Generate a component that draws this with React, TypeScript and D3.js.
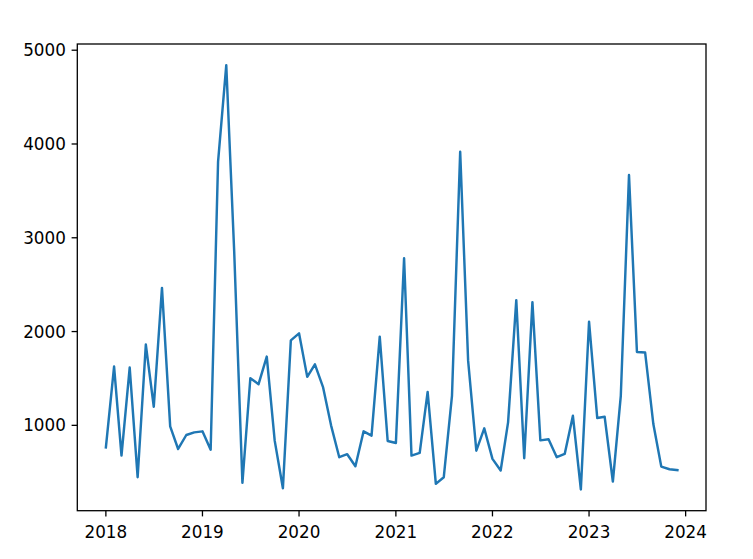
import React from "react";
import * as d3 from "d3";

const years = [2018, 2019, 2020, 2021, 2022, 2023];
const values2018 = [766, 1627, 677, 1616, 447, 1861, 1198, 2466, 989, 748, 897, 925];
const values2019 = [936, 741, 3812, 4840, 2850, 387, 1503, 1439, 1733, 837, 330, 1906];
const values2020 = [1981, 1517, 1651, 1404, 1000, 660, 692, 564, 936, 890, 1946, 833];
const values2021 = [812, 2781, 677, 706, 1357, 376, 447, 1315, 3918, 1690, 730, 968];
const values2022 = [642, 518, 1032, 2335, 649, 2314, 840, 851, 660, 695, 1102, 316];
const values2023 = [2105, 1078, 1091, 401, 1315, 3670, 1782, 1776, 1014, 560, 532, 522];
const yearValues = [values2018, values2019, values2020, values2021, values2022, values2023];

const xTickLabels = ["2018", "2019", "2020", "2021", "2022", "2023", "2024"];
const yTickLabels = ["1000", "2000", "3000", "4000", "5000"];

type Pt = { date: Date; value: number };
const data: Pt[] = [];
years.forEach((y, yi) => {
  yearValues[yi].forEach((v, m) => {
    data.push({ date: new Date(Date.UTC(y, m, 1)), value: v });
  });
});

const W = 753;
const H = 559;
const left = 77.3;
const right = 706;
const top = 44;
const bottom = 510.7;

export default function App() {
  const t0 = data[0].date.getTime();
  const t1 = data[data.length - 1].date.getTime();
  const xm = (t1 - t0) * 0.05;
  const x = d3.scaleUtc().domain([new Date(t0 - xm), new Date(t1 + xm)]).range([left, right]);

  const vmin = d3.min(data, (d) => d.value)!;
  const vmax = d3.max(data, (d) => d.value)!;
  const ym = (vmax - vmin) * 0.05;
  const y = d3.scaleLinear().domain([vmin - ym, vmax + ym]).range([bottom, top]);

  const line = d3
    .line<Pt>()
    .x((d) => x(d.date))
    .y((d) => y(d.value));

  const font = "'DejaVu Sans', sans-serif";
  const fs = 16.8;
  const tickLen = 5.7;

  return (
    <svg
      width={W}
      height={H}
      style={{ position: "absolute", left: 0, top: 0, background: "#fff" }}
    >
      <rect x={0} y={0} width={W} height={H} fill="#fff" />
      <path d={line(data) || ""} fill="none" stroke="#1f77b4" strokeWidth={2.45} strokeLinejoin="round" strokeLinecap="square" />
      <rect x={left} y={top} width={right - left} height={bottom - top} fill="none" stroke="#000" strokeWidth={1.3} />
      {xTickLabels.map((lab) => {
        const px = x(new Date(Date.UTC(+lab, 0, 1)));
        return (
          <g key={lab}>
            <line x1={px} x2={px} y1={bottom} y2={bottom + tickLen} stroke="#000" strokeWidth={1.3} />
            <text x={px} y={bottom + 26.8} textAnchor="middle" fontFamily={font} fontSize={fs} fill="#000">
              {lab}
            </text>
          </g>
        );
      })}
      {yTickLabels.map((lab) => {
        const py = y(+lab);
        return (
          <g key={lab}>
            <line x1={left - tickLen} x2={left} y1={py} y2={py} stroke="#000" strokeWidth={1.3} />
            <text x={left - tickLen - 5.7} y={py} dy="0.36em" textAnchor="end" fontFamily={font} fontSize={fs} fill="#000">
              {lab}
            </text>
          </g>
        );
      })}
    </svg>
  );
}
